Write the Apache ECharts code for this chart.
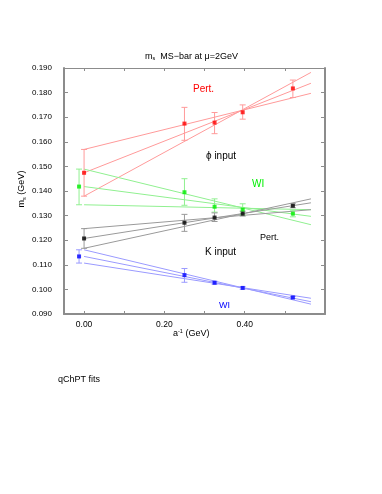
<!DOCTYPE html>
<html><head><meta charset="utf-8">
<script src="https://cdn.jsdelivr.net/npm/echarts@6/dist/echarts.min.js"></script>
<style>html,body{margin:0;padding:0;background:#fff}#c{width:382px;height:494px}</style>
</head><body><div id="c"></div>
<script>
// ---- data ----
const xTicks = [0, 0.1, 0.2, 0.3, 0.4, 0.5];
const xLabels = [0, 0.2, 0.4];
const fitX = [0, 0.565];

const redX = [0, 0.25, 0.325, 0.395, 0.52];
const redY = [0.1474, 0.1674, 0.1678, 0.1720, 0.1817];
const redLo = [0.1379, 0.1606, 0.1633, 0.1692, 0.1780];
const redHi = [0.1569, 0.1740, 0.1719, 0.1750, 0.1851];
const redFits = [[0.1569, 0.1797], [0.1474, 0.1838], [0.1379, 0.1882]];

const greenX = [-0.0125, 0.25, 0.325, 0.395, 0.52];
const greenY = [0.1418, 0.1395, 0.1336, 0.1324, 0.1308];
const greenLo = [0.1344, 0.1342, 0.1314, 0.1303, 0.1295];
const greenHi = [0.1489, 0.1450, 0.1368, 0.1348, 0.1322];
const greenFits = [[0.1489, 0.1263], [0.1418, 0.1297], [0.1344, 0.1324]];

const blackX = [0, 0.25, 0.325, 0.395, 0.52];
const blackY = [0.1207, 0.1271, 0.1292, 0.1308, 0.1340];
const blackLo = [0.1167, 0.1236, 0.1276, 0.1298, 0.1332];
const blackHi = [0.1247, 0.1305, 0.1311, 0.1318, 0.1348];
const blackFits = [[0.1247, 0.1324], [0.1207, 0.1352], [0.1167, 0.1368]];

const blueX = [-0.0125, 0.25, 0.325, 0.395, 0.52];
const blueY = [0.1134, 0.1058, 0.1027, 0.1006, 0.0967];
const blueLo = [0.1107, 0.1029, 0.1021, 0.1001, 0.0963];
const blueHi = [0.1161, 0.1085, 0.1033, 0.1011, 0.0971];
const blueFits = [[0.1161, 0.0940], [0.1134, 0.0950], [0.1107, 0.0964]];

// ---- chart ----
const FONT = '"Liberation Sans", Arial, sans-serif';
const groups = [
  {x: redX, y: redY, lo: redLo, hi: redHi, fits: redFits, pt: '#ff0000', ln: '#ff9a9a'},
  {x: greenX, y: greenY, lo: greenLo, hi: greenHi, fits: greenFits, pt: '#00ee00', ln: '#90f090'},
  {x: blackX, y: blackY, lo: blackLo, hi: blackHi, fits: blackFits, pt: '#000000', ln: '#9a9a9a'},
  {x: blueX, y: blueY, lo: blueLo, hi: blueHi, fits: blueFits, pt: '#0000ff', ln: '#9a9aff'}
];

const series = [];
groups.forEach(g => {
  g.fits.forEach(f => {
    series.push({type: 'line', data: fitX.map((xv, i) => [xv, f[i]]), symbol: 'none',
      lineStyle: {color: g.ln, width: 1}, silent: true, z: 2, animation: false});
  });
  series.push({type: 'custom', z: 3, silent: true, animation: false,
    data: g.x.map((xv, i) => [xv, g.lo[i], g.hi[i]]),
    renderItem: function (params, api) {
      const top = api.coord([api.value(0), api.value(2)]);
      const bot = api.coord([api.value(0), api.value(1)]);
      const w = 3;
      const st = {stroke: g.ln, lineWidth: 1};
      return {type: 'group', children: [
        {type: 'line', shape: {x1: top[0], y1: top[1], x2: bot[0], y2: bot[1]}, style: st},
        {type: 'line', shape: {x1: top[0] - w, y1: top[1], x2: top[0] + w, y2: top[1]}, style: st},
        {type: 'line', shape: {x1: bot[0] - w, y1: bot[1], x2: bot[0] + w, y2: bot[1]}, style: st}
      ]};
    }});
  series.push({type: 'scatter', data: g.x.map((xv, i) => [xv, g.y[i]]), symbol: 'rect', symbolSize: 4,
    itemStyle: {color: g.pt}, z: 4, animation: false});
});

const axisGray = '#8c8c8c';
const chart = echarts.init(document.getElementById('c'), null, {renderer: 'canvas'});
chart.setOption({
  animation: false,
  grid: {left: 64, right: 57, top: 68, bottom: 180, containLabel: false},
  xAxis: [{
    type: 'value', min: -0.05, max: 0.6, position: 'bottom',
    axisLine: {show: true, onZero: false, lineStyle: {color: axisGray, width: 2}},
    axisTick: {show: true, inside: true, length: 3, customValues: xTicks, lineStyle: {color: axisGray}},
    axisLabel: {customValues: xLabels, formatter: v => v.toFixed(2), color: '#000', fontSize: 8.5, fontFamily: FONT, margin: 6},
    splitLine: {show: false}
  }, {
    type: 'value', min: -0.05, max: 0.6, position: 'top',
    axisLine: {show: true, onZero: false, lineStyle: {color: axisGray, width: 1}},
    axisTick: {show: true, inside: true, length: 3, customValues: xTicks, lineStyle: {color: axisGray}},
    axisLabel: {show: false}, splitLine: {show: false}
  }],
  yAxis: [{
    type: 'value', min: 0.09, max: 0.19, interval: 0.01, position: 'left',
    axisLine: {show: true, onZero: false, lineStyle: {color: axisGray, width: 2}},
    axisTick: {show: true, inside: true, length: 4, lineStyle: {color: axisGray}},
    axisLabel: {formatter: v => v.toFixed(3), color: '#000', fontSize: 8, fontFamily: FONT, margin: 12},
    splitLine: {show: false}
  }, {
    type: 'value', min: 0.09, max: 0.19, interval: 0.01, position: 'right',
    axisLine: {show: true, onZero: false, lineStyle: {color: axisGray, width: 2}},
    axisTick: {show: true, inside: true, length: 4, lineStyle: {color: axisGray}},
    axisLabel: {show: false}, splitLine: {show: false}
  }],
  series: series,
  graphic: [
    {type: 'text', left: 145, top: 52, style: {text: '{a|m}{s|s}{a|  MS−bar at μ=2GeV}', rich: {
      a: {fontSize: 9, fontFamily: FONT, fill: '#000'}, s: {fontSize: 5.5, fontFamily: FONT, fill: '#000', padding: [4, 0, 0, 0]}}}},
    {type: 'text', x: 22, y: 189, rotation: Math.PI / 2, style: {text: '{a|m}{s|s}{a| (GeV)}', align: 'center', verticalAlign: 'middle', rich: {
      a: {fontSize: 9, fontFamily: FONT, fill: '#000'}, s: {fontSize: 5.5, fontFamily: FONT, fill: '#000', padding: [4, 0, 0, 0]}}}},
    {type: 'text', left: 173, top: 328, style: {text: '{a|a}{s|-1}{a| (GeV)}', rich: {
      a: {fontSize: 9, fontFamily: FONT, fill: '#000'}, s: {fontSize: 5.5, fontFamily: FONT, fill: '#000', padding: [0, 0, 5, 0]}}}},
    {type: 'text', left: 58, top: 375, style: {text: 'qChPT fits', fontSize: 9, fontFamily: FONT, fill: '#000'}},
    {type: 'text', left: 193, top: 84, style: {text: 'Pert.', fontSize: 10, fontFamily: FONT, fill: '#ff0000'}},
    {type: 'text', left: 206, top: 151, style: {text: 'ϕ input', fontSize: 10, fontFamily: FONT, fill: '#000'}},
    {type: 'text', left: 252, top: 179, style: {text: 'WI', fontSize: 10, fontFamily: FONT, fill: '#00ee00'}},
    {type: 'text', left: 260, top: 233, style: {text: 'Pert.', fontSize: 9, fontFamily: FONT, fill: '#000'}},
    {type: 'text', left: 205, top: 247, style: {text: 'K input', fontSize: 10, fontFamily: FONT, fill: '#000'}},
    {type: 'text', left: 219, top: 301, style: {text: 'WI', fontSize: 9, fontFamily: FONT, fill: '#0000ff'}}
  ]
});
</script></body></html>
